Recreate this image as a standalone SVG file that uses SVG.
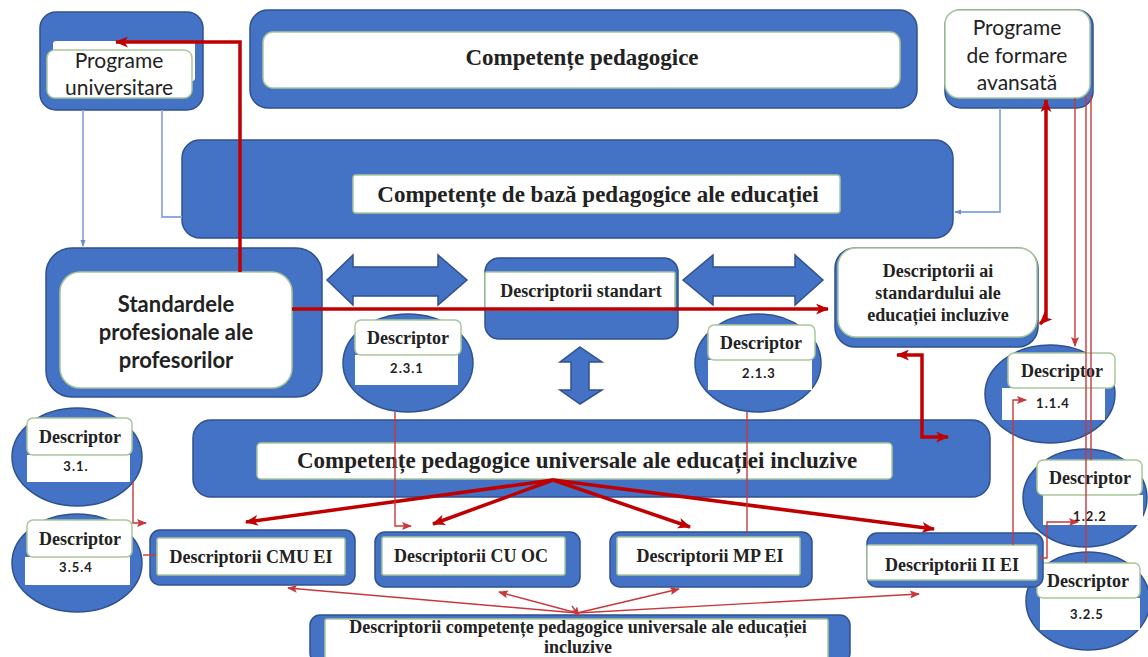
<svg xmlns="http://www.w3.org/2000/svg" width="1148" height="657" viewBox="0 0 1148 657">
  <style>
    .blue { fill: #4472C4; stroke: #2F528F; stroke-width: 1.5; }
    .wb { fill: #ffffff; stroke: #A9C79B; stroke-width: 1.5; }
    .ws { fill: #ffffff; stroke: none; }
    .serif { font-family: "Liberation Serif", "Times New Roman", serif; font-weight: bold; fill: #222; text-anchor: middle; }
    .sans { font-family: Lato, "Liberation Sans", sans-serif; fill: #222; text-anchor: middle; }
    .num { font-family: Lato, "Liberation Sans", Arial, sans-serif; font-weight: bold; font-size: 13px; letter-spacing: 1px; fill: #222; text-anchor: middle; }
    .desc { font-size: 18px; }
    .rt { stroke: #C00000; stroke-width: 3.5; fill: none; }
    .rn { stroke: #C8383A; stroke-width: 1.4; fill: none; }
    .bl { stroke: #8FAADC; stroke-width: 1.8; fill: none; }
  </style>
  <defs>
    <marker id="ht" viewBox="0 0 12 10" refX="11" refY="5" markerWidth="13" markerHeight="11" markerUnits="userSpaceOnUse" orient="auto-start-reverse">
      <path d="M0,0 L12,5 L0,10 L3,5 Z" fill="#C00000"/>
    </marker>
    <marker id="hn" viewBox="0 0 10 8" refX="9" refY="4" markerWidth="10" markerHeight="8" markerUnits="userSpaceOnUse" orient="auto-start-reverse">
      <path d="M0,0 L10,4 L0,8 L2,4 Z" fill="#C8383A"/>
    </marker>
    <marker id="hb" viewBox="0 0 8 6" refX="7" refY="3" markerWidth="7" markerHeight="6" markerUnits="userSpaceOnUse" orient="auto">
      <path d="M0,0 L8,3 L0,6 Z" fill="#6F8FCF"/>
    </marker>
  </defs>

  <rect width="1148" height="657" fill="#ffffff"/>

  <!-- Nodes -->
  <g id="programe-universitare">
    <rect class="blue" x="40" y="12" width="163" height="98" rx="16"/>
    <rect class="ws" x="53" y="41" width="142" height="40" rx="3"/>
    <rect class="wb" x="47" y="50" width="145" height="48" rx="8"/>
    <text class="sans" x="119" y="68" font-size="21">Programe</text>
    <text class="sans" x="119" y="95" font-size="21">universitare</text>
  </g>

  <g id="competente-pedagogice">
    <rect class="blue" x="250" y="10" width="667" height="98" rx="18"/>
    <rect class="wb" x="263" y="32" width="637" height="56" rx="10"/>
    <text class="serif" x="582" y="65" font-size="23">Competențe pedagogice</text>
  </g>

  <g id="programe-formare">
    <rect class="blue" x="945" y="10" width="148" height="98" rx="16"/>
    <rect class="wb" x="945" y="10" width="145" height="88" rx="14"/>
    <text class="sans" x="1017" y="35" font-size="21">Programe</text>
    <text class="sans" x="1017" y="63" font-size="21">de formare</text>
    <text class="sans" x="1017" y="90" font-size="21">avansată</text>
  </g>

  <g id="competente-baza">
    <rect class="blue" x="182" y="140" width="771" height="98" rx="18"/>
    <rect class="wb" x="353" y="175" width="487" height="38" rx="3"/>
    <text class="serif" x="598" y="202" font-size="23">Competențe de bază pedagogice ale educației</text>
  </g>

  <g id="standardele">
    <rect class="blue" x="46" y="248" width="276" height="149" rx="26"/>
    <rect class="wb" x="60" y="272" width="232" height="116" rx="20"/>
    <text class="sans" x="176" y="312" font-size="22" font-weight="bold">Standardele</text>
    <text class="sans" x="176" y="340" font-size="22" font-weight="bold">profesionale ale</text>
    <text class="sans" x="176" y="368" font-size="22" font-weight="bold">profesorilor</text>
  </g>

  <g id="sageti-bloc">
    <polygon class="blue" points="327,280 353,255 353,267 438,267 438,255 467,280 438,305 438,296 353,296 353,305"/>
    <polygon class="blue" points="683,280 713,255 713,267 795,267 795,255 823,280 795,305 795,296 713,296 713,305"/>
    <polygon class="blue" points="580,347 602,362 589,362 589,390 602,390 580,404 560,390 571,390 571,362 560,362"/>
  </g>

  <g id="descriptorii-standart">
    <rect class="blue" x="485" y="258" width="193" height="81" rx="14"/>
    <rect class="wb" x="485" y="272" width="190" height="38" rx="2"/>
    <text class="serif desc" x="581" y="297">Descriptorii standart</text>
  </g>

  <g id="descriptorii-ai-standardului">
    <rect class="blue" x="835" y="248" width="203" height="99" rx="20"/>
    <rect class="wb" x="838" y="248" width="199" height="89" rx="18"/>
    <text class="serif desc" x="938" y="277">Descriptorii ai</text>
    <text class="serif desc" x="938" y="299">standardului ale</text>
    <text class="serif desc" x="938" y="321">educației incluzive</text>
  </g>

  <g id="descriptor-2-3-1">
    <ellipse class="blue" cx="408" cy="363" rx="65" ry="49"/>
    <rect class="ws" x="355" y="355" width="103" height="30"/>
    <rect class="wb" x="355" y="320" width="106" height="35" rx="6"/>
    <text class="serif desc" x="408" y="344">Descriptor</text>
    <text class="num" x="407" y="373">2.3.1</text>
  </g>

  <g id="descriptor-2-1-3">
    <ellipse class="blue" cx="758" cy="363" rx="63" ry="49"/>
    <rect class="ws" x="708" y="360" width="104" height="30"/>
    <rect class="wb" x="708" y="325" width="107" height="35" rx="6"/>
    <text class="serif desc" x="761" y="349">Descriptor</text>
    <text class="num" x="759" y="378">2.1.3</text>
  </g>

  <g id="descriptor-1-1-4">
    <ellipse class="blue" cx="1050" cy="394" rx="65" ry="49"/>
    <rect class="ws" x="1002" y="388" width="103" height="32"/>
    <rect class="wb" x="1008" y="353" width="107" height="35" rx="6"/>
    <text class="serif desc" x="1062" y="377">Descriptor</text>
    <text class="num" x="1053" y="408">1.1.4</text>
  </g>

  <g id="descriptor-1-2-2">
    <ellipse class="blue" cx="1085" cy="498" rx="62" ry="49"/>
    <rect class="ws" x="1043" y="495" width="100" height="30"/>
    <rect class="wb" x="1037" y="460" width="105" height="35" rx="6"/>
    <text class="serif desc" x="1090" y="484">Descriptor</text>
    <text class="num" x="1090" y="521">1.2.2</text>
  </g>

  <g id="descriptor-3-2-5">
    <ellipse class="blue" cx="1088" cy="601" rx="62" ry="49"/>
    <rect class="ws" x="1040" y="598" width="100" height="32"/>
    <rect class="wb" x="1037" y="563" width="103" height="35" rx="6"/>
    <text class="serif desc" x="1088" y="587">Descriptor</text>
    <text class="num" x="1087" y="619">3.2.5</text>
  </g>

  <g id="descriptor-3-1">
    <ellipse class="blue" cx="77" cy="457" rx="65" ry="49"/>
    <rect class="ws" x="27" y="455" width="103" height="27"/>
    <rect class="wb" x="27" y="418" width="105" height="37" rx="6"/>
    <text class="serif desc" x="80" y="443">Descriptor</text>
    <text class="num" x="76" y="471">3.1.</text>
  </g>

  <g id="descriptor-3-5-4">
    <ellipse class="blue" cx="77" cy="563" rx="65" ry="49"/>
    <rect class="ws" x="25" y="557" width="105" height="28"/>
    <rect class="wb" x="27" y="520" width="105" height="37" rx="6"/>
    <text class="serif desc" x="80" y="545">Descriptor</text>
    <text class="num" x="76" y="572">3.5.4</text>
  </g>

  <g id="competente-universale">
    <rect class="blue" x="193" y="420" width="797" height="77" rx="18"/>
    <rect class="wb" x="257" y="443" width="635" height="36" rx="4"/>
    <text class="serif" x="577" y="468" font-size="23">Competențe pedagogice universale ale educației incluzive</text>
  </g>

  <g id="descriptorii-cmu-ei">
    <rect class="blue" x="150" y="530" width="205" height="55" rx="10"/>
    <rect class="wb" x="157" y="538" width="188" height="37" rx="2"/>
    <text class="serif desc" x="251" y="563">Descriptorii CMU EI</text>
  </g>

  <g id="descriptorii-cu-oc">
    <rect class="blue" x="375" y="532" width="205" height="55" rx="10"/>
    <rect class="wb" x="382" y="537" width="183" height="38" rx="2"/>
    <text class="serif desc" x="471" y="562">Descriptorii CU OC</text>
  </g>

  <g id="descriptorii-mp-ei">
    <rect class="blue" x="610" y="532" width="202" height="55" rx="10"/>
    <rect class="wb" x="617" y="537" width="183" height="38" rx="2"/>
    <text class="serif desc" x="710" y="562">Descriptorii MP EI</text>
  </g>

  <g id="descriptorii-ii-ei">
    <rect class="blue" x="867" y="533" width="176" height="54" rx="10"/>
    <rect class="wb" x="867" y="545" width="170" height="35" rx="2"/>
    <text class="serif desc" x="952" y="571">Descriptorii II EI</text>
  </g>

  <g id="descriptorii-competente-universale">
    <rect class="blue" x="310" y="615" width="540" height="48" rx="10"/>
    <rect class="wb" x="325" y="619" width="503" height="44" rx="2"/>
    <text class="serif desc" x="578" y="633">Descriptorii competențe pedagogice universale ale educației</text>
    <text class="serif desc" x="578" y="653">incluzive</text>
  </g>

  <!-- Connectors -->
  <g id="connectors">
    <!-- blue feeds from the programmes -->
    <path class="bl" d="M83,110 V246" marker-end="url(#hb)"/>
    <path class="bl" d="M162,110 V217 H182"/>
    <path class="bl" d="M1000,108 V212 H955" marker-end="url(#hb)"/>

    <!-- thick red links -->
    <path class="rt" d="M240,272 V42 H116" marker-end="url(#ht)"/>
    <path class="rt" d="M292,309 H828" marker-end="url(#ht)"/>
    <path class="rt" d="M1040,324 L1046,318 V100" marker-start="url(#ht)" marker-end="url(#ht)"/>
    <path class="rt" d="M897,355 H922 V437 H948" marker-start="url(#ht)" marker-end="url(#ht)"/>

    <!-- fan from the universal competences -->
    <path class="rt" d="M553,480 L246,522" marker-end="url(#ht)"/>
    <path class="rt" d="M553,480 L433,524" marker-end="url(#ht)"/>
    <path class="rt" d="M553,480 L690,527" marker-end="url(#ht)"/>
    <path class="rt" d="M553,480 L934,529" marker-end="url(#ht)"/>

    <!-- thin fan from the bottom descriptors -->
    <path class="rn" d="M577,613 L288,588" marker-end="url(#hn)"/>
    <path class="rn" d="M577,613 L499,592" marker-end="url(#hn)"/>
    <path class="rn" d="M577,613 L679,589" marker-end="url(#hn)"/>
    <path class="rn" d="M577,613 L919,594" marker-end="url(#hn)"/>
    <path class="rn" d="M572,606 L579,616" marker-end="url(#hn)"/>

    <!-- thin links from descriptors -->
    <path class="rn" d="M395,412 V526 H411" marker-end="url(#hn)"/>
    <path class="rn" d="M747,412 V533"/>
    <path class="rn" d="M133,482 V523 H146" marker-end="url(#hn)"/>
    <path class="rn" d="M143,555 H156"/>

    <!-- right column -->
    <path class="rn" d="M1075,98 V346" marker-end="url(#hn)"/>
    <path class="rn" d="M1086,96 V563"/>
    <path class="rn" d="M1091,94 V460"/>
    <path class="rn" d="M1013,545 V400 H1026" marker-end="url(#hn)"/>
    <path class="rn" d="M1040,558 H1047 V522 H1078" marker-end="url(#hn)"/>
  </g>
</svg>
